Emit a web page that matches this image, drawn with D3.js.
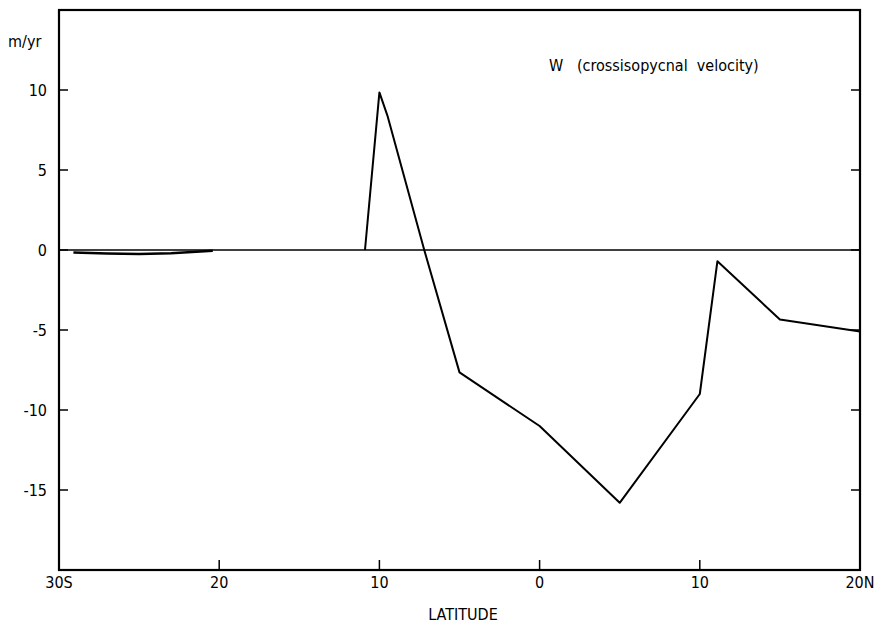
<!DOCTYPE html>
<html><head><meta charset="utf-8">
<script src="https://cdn.jsdelivr.net/npm/d3@7"></script>
<style>body{margin:0;background:#fff}svg{display:block}text{font-family:"Liberation Sans Narrow","Arial Narrow","DejaVu Sans Condensed",sans-serif;fill:#000}</style>
</head><body>
<svg id="c" width="885" height="626"></svg>
<script>
// Southern segment (lat in degrees, negative = S)
const southLat = [-29.1, -27, -25, -23, -20.4];
const southW   = [-0.15, -0.22, -0.25, -0.2, -0.05];
// Main segment
const mainLat = [-10.9, -10.0, -9.5, -7.2, -5.0, 0.0, 5.0, 10.0, 11.1, 15.0, 20.0];
const mainW   = [0.0, 9.85, 8.4, 0.0, -7.65, -11.0, -15.8, -9.0, -0.7, -4.35, -5.1];
const yTicks = [10, 5, 0, -5, -10, -15];
const xTicks = [-30, -20, -10, 0, 10, 20];
const xTickLabels = ["30S", "20", "10", "0", "10", "20N"];

const svg = d3.select("#c");
const x = d3.scaleLinear().domain([-30, 20]).range([59, 860]);
const y = d3.scaleLinear().domain([-20, 15]).range([570, 10]);

// frame
svg.append("rect").attr("x", x(-30)).attr("y", y(15)).attr("width", x(20)-x(-30)).attr("height", y(-20)-y(15))
  .attr("fill", "none").attr("stroke", "#000").attr("stroke-width", 2.2);

// y ticks (inward both sides)
const gy = svg.append("g");
gy.selectAll("line.l").data(yTicks).enter().append("line")
  .attr("x1", x(-30)).attr("x2", x(-30)+9).attr("y1", d=>y(d)).attr("y2", d=>y(d)).attr("stroke", "#000").attr("stroke-width", 1.5);
gy.selectAll("line.r").data(yTicks).enter().append("line")
  .attr("x1", x(20)).attr("x2", x(20)-9).attr("y1", d=>y(d)).attr("y2", d=>y(d)).attr("stroke", "#000").attr("stroke-width", 1.5);
gy.selectAll("text").data(yTicks).enter().append("text")
  .attr("x", 47).attr("y", d=>y(d)+6).attr("text-anchor", "end").attr("font-size", 16).text(d=>d);

// x ticks (inward from bottom)
const gx = svg.append("g");
gx.selectAll("line").data(xTicks.slice(1, -1)).enter().append("line")
  .attr("x1", d=>x(d)).attr("x2", d=>x(d)).attr("y1", y(-20)).attr("y2", y(-20)-10).attr("stroke", "#000").attr("stroke-width", 1.5);
gx.selectAll("text").data(xTicks).enter().append("text")
  .attr("x", d=>x(d)).attr("y", 588).attr("text-anchor", "middle").attr("font-size", 16)
  .text((d,i)=>xTickLabels[i]);

// zero line
svg.append("line").attr("x1", x(-30)).attr("x2", x(20)).attr("y1", y(0)).attr("y2", y(0))
  .attr("stroke", "#000").attr("stroke-width", 1.6);

const line = d3.line().x(d=>x(d[0])).y(d=>y(d[1]));
svg.append("path").datum(d3.zip(southLat, southW)).attr("d", line)
  .attr("fill", "none").attr("stroke", "#000").attr("stroke-width", 2.5);
svg.append("path").datum(d3.zip(mainLat, mainW)).attr("d", line)
  .attr("fill", "none").attr("stroke", "#000").attr("stroke-width", 2).attr("stroke-linejoin", "round");

// labels
svg.append("text").attr("x", 8).attr("y", 47).attr("font-size", 16).text("m/yr");
svg.append("text").attr("x", 549).attr("y", 71).attr("font-size", 16).attr("xml:space", "preserve")
  .text("W   (crossisopycnal  velocity)");
svg.append("text").attr("x", 463).attr("y", 620).attr("text-anchor", "middle").attr("font-size", 16).text("LATITUDE");
</script>
</body></html>
